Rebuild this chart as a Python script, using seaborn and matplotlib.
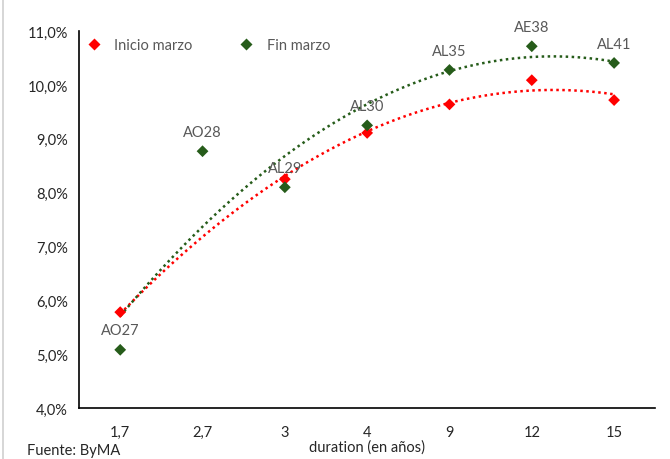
import numpy as np
import pandas as pd
import seaborn as sns
import matplotlib.pyplot as plt
from matplotlib.ticker import FuncFormatter, FixedLocator
from matplotlib.lines import Line2D

# Data (yields in %)
duration = ['1,7', '2,7', '3', '4', '9', '12', '15']
bonds = ['AO27', 'AO28', 'AL29', 'AL30', 'AL35', 'AE38', 'AL41']
inicio_marzo = [5.78, np.nan, 8.25, 9.11, 9.64, 10.09, 9.72]
fin_marzo = [5.08, 8.77, 8.10, 9.25, 10.28, 10.72, 10.41]

RED = '#FF0000'
GREEN = '#265C1A'
GREY = '#595959'

pos = np.arange(1, len(duration) + 1)
df = pd.DataFrame({
    'pos': np.concatenate([pos, pos]),
    'tasa': inicio_marzo + fin_marzo,
    'serie': ['Inicio marzo'] * len(pos) + ['Fin marzo'] * len(pos),
})

sns.set_style('white')
plt.rcParams['font.family'] = ['Lato', 'DejaVu Sans']

fig = plt.figure(figsize=(6.7, 4.6), dpi=100)
ax = fig.add_axes([0.118, 0.111, 0.860, 0.819])

# polynomial (order 2) trendlines, dotted
sns.regplot(data=df[df['serie'] == 'Inicio marzo'].dropna(), x='pos', y='tasa', order=2,
            ci=None, scatter=False, ax=ax,
            line_kws=dict(color=RED, lw=1.8, linestyle=(0, (1, 1.4))))
sns.regplot(data=df[df['serie'] == 'Fin marzo'], x='pos', y='tasa', order=2,
            ci=None, scatter=False, ax=ax,
            line_kws=dict(color=GREEN, lw=1.8, linestyle=(0, (1, 1.4))))

sns.scatterplot(data=df.dropna(), x='pos', y='tasa', hue='serie', marker='D', s=36,
                palette={'Inicio marzo': RED, 'Fin marzo': GREEN}, edgecolor='none',
                ax=ax, zorder=3)

# data labels above the "Fin marzo" points
for p, y, lab in zip(pos, fin_marzo, bonds):
    ax.annotate(lab, (p, y), xytext=(0, 14), textcoords='offset points',
                ha='center', va='center', fontsize=10.5, color=GREY)

ax.set_xlim(0.5, 7.5)
ax.set_ylim(4, 11)
ax.set_xticks(pos)
ax.set_xticklabels(duration)
ax.xaxis.set_minor_locator(FixedLocator(np.arange(0.5, 8, 1)))
ax.set_yticks(np.arange(4, 11.5, 1))
ax.yaxis.set_major_formatter(FuncFormatter(lambda v, _: f'{v:.1f}%'.replace('.', ',')))

ax.tick_params(axis='x', which='both', direction='inout', length=7, width=1, color='black',
               labelsize=10.5, pad=9, labelcolor='#262626')
ax.tick_params(axis='y', direction='out', length=5, width=1, color='black',
               labelsize=10.5, pad=3, labelcolor='#262626')

for s in ['top', 'right']:
    ax.spines[s].set_visible(False)
for s in ['left', 'bottom']:
    ax.spines[s].set_color('black')
    ax.spines[s].set_linewidth(1.2)

ax.set_xlabel('duration (en años)', fontsize=10.5, color='#262626', labelpad=0)
ax.set_ylabel('')

leg = ax.legend(loc='upper left', ncol=2, frameon=False, fontsize=10.5,
                bbox_to_anchor=(-0.01, 1.005), columnspacing=2.9, handletextpad=0.6,
                borderaxespad=0.2, handlelength=1.6)
for t in leg.get_texts():
    t.set_color(GREY)

fig.text(0.04, 0.004, 'Fuente: ByMA', fontsize=10.5, color='#262626', va='bottom', ha='left')
fig.add_artist(Line2D([0.004, 0.004], [0, 1], transform=fig.transFigure,
                      color='#D0D0D0', lw=1.2))

fig.savefig('out.png', dpi=100)
